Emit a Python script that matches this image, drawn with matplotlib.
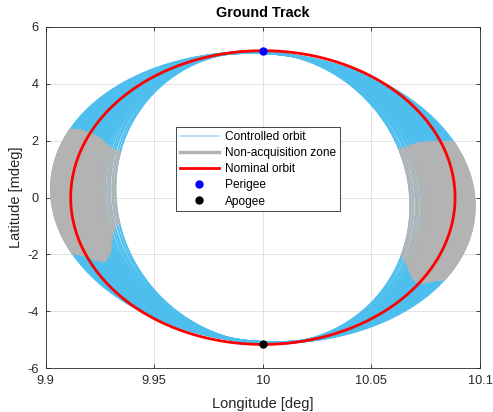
import numpy as np
import matplotlib.pyplot as plt
from matplotlib.lines import Line2D

plt.rcParams['font.family'] = ['Liberation Sans', 'DejaVu Sans']
plt.rcParams['axes.unicode_minus'] = False

# Nominal orbit: longitude half-width [deg] and latitude half-height [mdeg]
lon_centro = 10.0
nominal_lon = 0.0885
nominal_lat = 5.16

# Controlled orbit tracks: longitude amplitude [deg], latitude amplitude [mdeg]
amp_lon = [0.0680, 0.0692, 0.0705, 0.0716, 0.0728, 0.0738, 0.0748, 0.0756, 0.0763, 0.0770,
           0.0776, 0.0782, 0.0788, 0.0794, 0.0800, 0.0806, 0.0812, 0.0818, 0.0823, 0.0829,
           0.0834, 0.0840, 0.0846, 0.0851, 0.0857, 0.0863, 0.0868, 0.0874, 0.0879, 0.0885,
           0.0891, 0.0896, 0.0902, 0.0908, 0.0913, 0.0919, 0.0924, 0.0930, 0.0936, 0.0941,
           0.0947, 0.0953, 0.0958, 0.0964, 0.0969, 0.0975]
amp_lat = [5.14, 5.13, 5.14, 5.12, 5.13, 5.12, 5.13, 5.11, 5.12, 5.11,
           5.12, 5.10, 5.11, 5.10, 5.11, 5.09, 5.10, 5.11, 5.09, 5.10,
           5.09, 5.10, 5.08, 5.09, 5.10, 5.08, 5.09, 5.08, 5.10, 5.08,
           5.09, 5.08, 5.10, 5.09, 5.08, 5.09, 5.08, 5.10, 5.08, 5.09,
           5.08, 5.09, 5.08, 5.09, 5.08, 5.09]
# latitude offset at the east/west extremes (tilt of the tracks) [mdeg]
giro_lat = -0.3

# Non-acquisition zone latitude limits [mdeg] per track (west and east side)
oeste_sup = [1.60, 1.66, 1.64, 1.70, 1.74, 1.80, 1.78, 1.86, 1.92, 1.88,
             1.96, 2.00, 1.95, 2.04, 2.08, 2.02, 2.10, 2.12, 2.06, 2.15,
             2.18, 2.12, 2.22, 2.20, 2.26, 2.22, 2.28, 2.25, 2.30, 2.28,
             2.32, 2.30, 2.34, 2.31, 2.35, 2.33, 2.36, 2.34, 2.37, 2.35,
             2.38, 2.36, 2.38, 2.37, 2.38, 2.36]
oeste_inf = [-0.90, -0.95, -1.05, -1.20, -1.30, -1.45, -1.55, -1.65, -1.75, -1.85,
             -1.80, -1.95, -2.00, -1.95, -2.05, -2.10, -2.05, -2.15, -2.20, -2.15,
             -2.22, -2.27, -2.20, -2.25, -2.22, -2.18, -2.22, -2.15, -2.18, -2.12,
             -2.15, -2.08, -2.10, -2.05, -2.06, -2.02, -2.04, -2.00, -2.02, -1.98,
             -2.00, -1.97, -1.98, -1.95, -1.96, -1.95]
este_sup = [1.70, 1.72, 1.74, 1.76, 1.78, 1.80, 1.84, 1.82, 1.86, 1.88,
            1.85, 1.90, 1.88, 1.91, 1.93, 1.89, 1.92, 1.94, 1.90, 1.93,
            1.95, 1.92, 1.94, 1.96, 1.93, 1.95, 1.97, 1.94, 1.96, 1.95,
            1.93, 1.96, 1.94, 1.97, 1.95, 1.93, 1.96, 1.95, 1.97, 1.94,
            1.96, 1.95, 1.97, 1.95, 1.96, 1.95]
este_inf = [-2.05, -2.15, -2.20, -2.30, -2.35, -2.45, -2.50, -2.58, -2.62, -2.66,
            -2.70, -2.68, -2.75, -2.80, -2.78, -2.85, -2.88, -2.84, -2.90, -2.94,
            -2.92, -2.96, -2.98, -2.95, -2.98, -3.00, -2.96, -2.98, -3.00, -2.97,
            -2.95, -2.98, -2.94, -2.96, -2.92, -2.94, -2.90, -2.92, -2.89, -2.91,
            -2.88, -2.90, -2.87, -2.89, -2.86, -2.88]

azul = '#4DBEEE'
gris = '#B3B3B3'

fig = plt.figure(figsize=(4.93, 4.12), dpi=100)
ax = fig.add_axes([0.0927, 0.106, 0.881, 0.829])

M = np.linspace(0, 2 * np.pi, 1441)


def traza(i):
    lon = lon_centro + amp_lon[i] * np.sin(M)
    lat = amp_lat[i] * np.cos(M) + giro_lat * np.sin(M)
    return lon, lat


# Controlled tracks, then the part of them inside the non-acquisition zone
for i in range(len(amp_lon)):
    lon, lat = traza(i)
    ax.plot(lon, lat, color=azul, lw=1.5, zorder=2)
for i in range(len(amp_lon)):
    lon, lat = traza(i)
    oeste = (lon < lon_centro) & (lat <= oeste_sup[i]) & (lat >= oeste_inf[i])
    este = (lon > lon_centro) & (lat <= este_sup[i]) & (lat >= este_inf[i])
    ax.plot(lon, np.where(oeste | este, lat, np.nan), color=gris, lw=1.6, zorder=3)

# Nominal orbit
lon_nom = lon_centro + nominal_lon * np.sin(M)
lat_nom = nominal_lat * np.cos(M)
ax.plot(lon_nom, lat_nom, color='red', lw=2.0, zorder=4)
ax.plot(lon_centro, nominal_lat, 'o', color='blue', ms=5, zorder=5)
ax.plot(lon_centro, -nominal_lat, 'o', color='black', ms=5, zorder=5)

ax.set_xlim(9.9, 10.1)
ax.set_ylim(-6, 6)
ax.set_xticks([9.9, 9.95, 10, 10.05, 10.1])
ax.set_xticklabels(['9.9', '9.95', '10', '10.05', '10.1'])
ax.set_yticks([-6, -4, -2, 0, 2, 4, 6])
ax.grid(True, color='#e3e3e3', lw=0.7)
ax.set_axisbelow(True)
ax.tick_params(direction='in', length=3, width=0.6, colors='#262626',
               labelsize=9.2, top=True, right=True, pad=5)
for s in ax.spines.values():
    s.set_color('#262626')
    s.set_linewidth(0.6)

ax.set_xlabel('Longitude [deg]', fontsize=10.5, color='#262626', labelpad=7)
ax.set_ylabel('Latitude [mdeg]', fontsize=10.5, color='#262626', labelpad=3)
ax.set_title('Ground Track', fontsize=10.4, fontweight='bold', pad=7)

handles = [
    Line2D([], [], color='#A9DDF5', lw=1.2),
    Line2D([], [], color=gris, lw=2.5),
    Line2D([], [], color='red', lw=2.0),
    Line2D([], [], color='blue', marker='o', ms=5, ls='none'),
    Line2D([], [], color='black', marker='o', ms=5, ls='none'),
]
labels = ['Controlled orbit', 'Non-acquisition zone', 'Nominal orbit', 'Perigee', 'Apogee']
leg = ax.legend(handles, labels, loc='upper left', bbox_to_anchor=(0.30, 0.706),
                borderaxespad=0, fontsize=8.6, fancybox=False, framealpha=1,
                edgecolor='#262626', handlelength=3.3, handletextpad=0.5,
                labelspacing=0.35, borderpad=0.3)
leg.get_frame().set_linewidth(0.6)

fig.savefig('out.png', dpi=100)
